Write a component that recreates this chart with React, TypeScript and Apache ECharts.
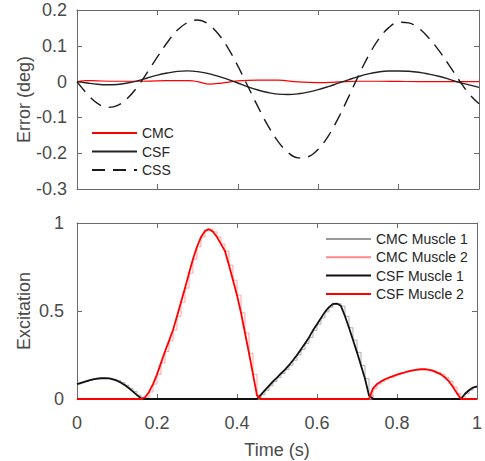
import React, { useEffect, useRef } from "react";
import * as echarts from "echarts";

// ---------- Top panel: tracking error (deg) ----------
const T_TOP = [
  0, 0.025, 0.05, 0.075, 0.1, 0.125, 0.15, 0.175, 0.2, 0.225, 0.25, 0.275, 0.3, 0.325, 0.35, 0.375, 0.4,
  0.425, 0.45, 0.475, 0.5, 0.525, 0.55, 0.575, 0.6, 0.625, 0.65, 0.675, 0.7, 0.725, 0.75, 0.775, 0.8,
  0.825, 0.85, 0.875, 0.9, 0.925, 0.95, 0.975, 1,
];
const CSS_ERR = [
  0, -0.034, -0.06, -0.072, -0.067, -0.047, -0.015, 0.026, 0.069, 0.11, 0.144, 0.165, 0.172, 0.162, 0.135,
  0.095, 0.044, -0.013, -0.07, -0.123, -0.167, -0.198, -0.213, -0.21, -0.189, -0.152, -0.102, -0.044, 0.016,
  0.072, 0.118, 0.15, 0.166, 0.164, 0.149, 0.122, 0.087, 0.047, 0.005, -0.034, -0.062,
];
const CSF_ERR = [
  0, -0.004, -0.0075, -0.009, -0.008, -0.004, 0.002, 0.01, 0.018, 0.024, 0.0287, 0.03, 0.028, 0.023, 0.0155,
  0.006, -0.004, -0.0145, -0.0235, -0.0305, -0.035, -0.036, -0.034, -0.0295, -0.0226, -0.014, -0.0045, 0.005,
  0.014, 0.0216, 0.027, 0.0297, 0.0298, 0.029, 0.026, 0.021, 0.015, 0.007, -0.002, -0.009, -0.016,
];
const T_CMC = [
  0, 0.025, 0.05, 0.1, 0.15, 0.2, 0.25, 0.28, 0.3, 0.33, 0.36, 0.4, 0.45, 0.5, 0.55, 0.6, 0.65, 0.7, 0.75,
  0.8, 0.85, 0.9, 0.95, 1,
];
const CMC_ERR = [
  0, 0.003, 0.002, 0.001, 0.001, 0.002, 0.003, 0.003, 0.0, -0.007, -0.004, 0.002, 0.004, 0.004, -0.001,
  -0.003, -0.001, 0.001, 0.001, 0.0005, 0.0, 0.0, 0.0, 0.0,
];

// ---------- Bottom panel: excitation ----------
const T_BOT = [
  0, 0.01, 0.02, 0.03, 0.04, 0.05, 0.06, 0.07, 0.08, 0.09, 0.1, 0.11, 0.12, 0.13, 0.14, 0.15, 0.16, 0.17,
  0.18, 0.19, 0.2, 0.21, 0.22, 0.23, 0.24, 0.25, 0.26, 0.27, 0.28, 0.29, 0.3, 0.31, 0.32, 0.33, 0.34, 0.35,
  0.36, 0.37, 0.38, 0.39, 0.4, 0.41, 0.42, 0.43, 0.44, 0.45, 0.46, 0.47, 0.48, 0.49, 0.5, 0.51, 0.52, 0.53,
  0.54, 0.55, 0.56, 0.57, 0.58, 0.59, 0.6, 0.61, 0.62, 0.63, 0.64, 0.65, 0.66, 0.67, 0.68, 0.69, 0.7, 0.71,
  0.72, 0.73, 0.74, 0.75, 0.76, 0.77, 0.78, 0.79, 0.8, 0.81, 0.82, 0.83, 0.84, 0.85, 0.86, 0.87, 0.88, 0.89,
  0.9, 0.91, 0.92, 0.93, 0.94, 0.95, 0.96, 0.97, 0.98, 0.99, 1,
];
const MUSCLE1 = [
  0.085, 0.092, 0.099, 0.106, 0.112, 0.116, 0.118, 0.119, 0.117, 0.112, 0.104, 0.093, 0.078, 0.061, 0.042,
  0.022, 0.004,
  0, 0, 0, 0, 0, 0, 0, 0, 0, 0, 0, 0, 0, 0, 0, 0, 0, 0, 0, 0, 0, 0, 0, 0, 0, 0, 0, 0, 0,
  0.025, 0.05, 0.075, 0.1, 0.122, 0.145, 0.167, 0.192, 0.22, 0.25, 0.282, 0.316, 0.35, 0.39, 0.425, 0.46,
  0.495, 0.522, 0.54, 0.542, 0.528, 0.47, 0.405, 0.335, 0.265, 0.19, 0.115, 0.02,
  0, 0, 0, 0, 0, 0, 0, 0, 0, 0, 0, 0, 0, 0, 0, 0, 0, 0, 0, 0, 0, 0, 0,
  0.03, 0.05, 0.065, 0.072,
];
const MUSCLE2 = [
  0, 0, 0, 0, 0, 0, 0, 0, 0, 0, 0, 0, 0, 0, 0, 0, 0,
  0.01, 0.04, 0.085, 0.14, 0.205, 0.27, 0.33, 0.392, 0.47, 0.55, 0.63, 0.715, 0.795, 0.865, 0.92, 0.955,
  0.965, 0.95, 0.92, 0.88, 0.84, 0.76, 0.675, 0.59, 0.49, 0.375, 0.26, 0.14, 0.02,
  0, 0, 0, 0, 0, 0, 0, 0, 0, 0, 0, 0, 0, 0, 0, 0, 0, 0, 0, 0, 0, 0, 0, 0, 0, 0, 0, 0,
  0.06, 0.085, 0.1, 0.112, 0.122, 0.13, 0.138, 0.145, 0.152, 0.158, 0.163, 0.167, 0.169, 0.169, 0.166,
  0.16, 0.15, 0.14, 0.122, 0.1, 0.068, 0.032,
  0, 0, 0, 0, 0,
];

const X_TICKS = [0, 0.2, 0.4, 0.6, 0.8, 1];
const TOP_Y = { min: -0.3, max: 0.2, interval: 0.1 };
const BOT_Y = { min: 0, max: 1, interval: 0.5 };

const FONT = "'Liberation Sans', Arial, Helvetica, sans-serif";
const AXIS_COLOR = "#6a6a6a";
const TEXT_COLOR = "#4a4a4a";

function pairs(t: number[], v: number[]) {
  return t.map((x, i) => [x, v[i]]);
}

function xAxis(gridIndex: number, position: string, showLabel: boolean, name?: string) {
  return {
    type: "value",
    gridIndex,
    position,
    min: X_TICKS[0],
    max: X_TICKS[X_TICKS.length - 1],
    interval: 0.2,
    name: name || "",
    nameLocation: "middle",
    nameGap: 42,
    nameMoveOverlap: false,
    nameTextStyle: { fontSize: 18, color: TEXT_COLOR, fontFamily: FONT },
    axisLine: { show: true, onZero: false, lineStyle: { color: AXIS_COLOR, width: 1 } },
    axisTick: { show: true, inside: true, length: 5, lineStyle: { color: AXIS_COLOR } },
    axisLabel: { show: showLabel, margin: 15, fontSize: 18, color: TEXT_COLOR, fontFamily: FONT },
    splitLine: { show: false },
  };
}

function yAxis(
  gridIndex: number,
  position: string,
  showLabel: boolean,
  range: { min: number; max: number; interval: number },
  name: string,
  margin: number
) {
  return {
    type: "value",
    gridIndex,
    position,
    min: range.min,
    max: range.max,
    interval: range.interval,
    name,
    nameLocation: "middle",
    nameGap: 44,
    nameMoveOverlap: false,
    nameTextStyle: { fontSize: 18, color: TEXT_COLOR, fontFamily: FONT },
    axisLine: { show: true, onZero: false, lineStyle: { color: AXIS_COLOR, width: 1 } },
    axisTick: { show: true, inside: true, length: 5, lineStyle: { color: AXIS_COLOR } },
    axisLabel: { show: showLabel, margin, fontSize: 18, color: TEXT_COLOR, fontFamily: FONT },
    splitLine: { show: false },
  };
}

const legendCommon = {
  orient: "vertical",
  padding: 0,
  itemWidth: 45,
  itemHeight: 14,
  selectedMode: false,
  itemStyle: { opacity: 0, borderWidth: 0 },
  textStyle: { fontSize: 14, color: "#262626", fontFamily: FONT },
};

const option = {
  animation: false,
  backgroundColor: "#ffffff",
  grid: [
    { left: 77, top: 10, width: 402, height: 179 },
    { left: 77, top: 223, width: 402, height: 176 },
  ],
  xAxis: [
    xAxis(0, "bottom", false),
    xAxis(0, "top", false),
    xAxis(1, "bottom", true, "Time (s)"),
    xAxis(1, "top", false),
  ],
  yAxis: [
    yAxis(0, "left", true, TOP_Y, "Error (deg)", 10),
    yAxis(0, "right", false, TOP_Y, "", 10),
    yAxis(1, "left", true, BOT_Y, "Excitation", 13),
    yAxis(1, "right", false, BOT_Y, "", 13),
  ],
  legend: [
    { ...legendCommon, left: 91, top: 126, itemGap: 4.5, data: ["CMC", "CSF", "CSS"] },
    {
      ...legendCommon,
      left: 325,
      top: 232,
      itemGap: 4.3,
      data: ["CMC Muscle 1", "CMC Muscle 2", "CSF Muscle 1", "CSF Muscle 2"],
    },
  ],
  series: [
    {
      name: "CMC",
      type: "line",
      xAxisIndex: 0,
      yAxisIndex: 0,
      data: pairs(T_CMC, CMC_ERR),
      smooth: 0.4,
      symbol: "none",
      lineStyle: { color: "#ff0000", width: 1.2 },
      itemStyle: { color: "#ff0000" },
    },
    {
      name: "CSF",
      type: "line",
      xAxisIndex: 0,
      yAxisIndex: 0,
      data: pairs(T_TOP, CSF_ERR),
      smooth: 0.4,
      symbol: "none",
      lineStyle: { color: "#222222", width: 1.4 },
      itemStyle: { color: "#222222" },
    },
    {
      name: "CSS",
      type: "line",
      xAxisIndex: 0,
      yAxisIndex: 0,
      data: pairs(T_TOP, CSS_ERR),
      smooth: 0.4,
      symbol: "none",
      lineStyle: { color: "#1a1a1a", width: 1.4, type: [13, 8] },
      itemStyle: { color: "#1a1a1a" },
    },
    {
      name: "CMC Muscle 1",
      type: "line",
      xAxisIndex: 2,
      yAxisIndex: 2,
      data: pairs(T_BOT, MUSCLE1),
      step: "end",
      symbol: "none",
      lineStyle: { color: "#999999", width: 0.8 },
      itemStyle: { color: "#999999" },
    },
    {
      name: "CMC Muscle 2",
      type: "line",
      xAxisIndex: 2,
      yAxisIndex: 2,
      data: pairs(T_BOT, MUSCLE2),
      step: "end",
      symbol: "none",
      lineStyle: { color: "#ff8a8a", width: 0.8 },
      itemStyle: { color: "#ff8a8a" },
    },
    {
      name: "CSF Muscle 1",
      type: "line",
      xAxisIndex: 2,
      yAxisIndex: 2,
      data: pairs(T_BOT, MUSCLE1),
      symbol: "none",
      lineStyle: { color: "#111111", width: 1.8 },
      itemStyle: { color: "#111111" },
    },
    {
      name: "CSF Muscle 2",
      type: "line",
      xAxisIndex: 2,
      yAxisIndex: 2,
      data: pairs(T_BOT, MUSCLE2),
      symbol: "none",
      lineStyle: { color: "#ff0000", width: 1.8 },
      itemStyle: { color: "#ff0000" },
    },
  ],
};

export default function App() {
  const ref = useRef<HTMLDivElement>(null);
  useEffect(() => {
    document.body.style.margin = "0";
    const chart = echarts.init(ref.current as HTMLDivElement, null, { renderer: "svg" });
    chart.setOption(option as any);
    return () => chart.dispose();
  }, []);
  return <div ref={ref} style={{ width: 485, height: 461 }} />;
}
